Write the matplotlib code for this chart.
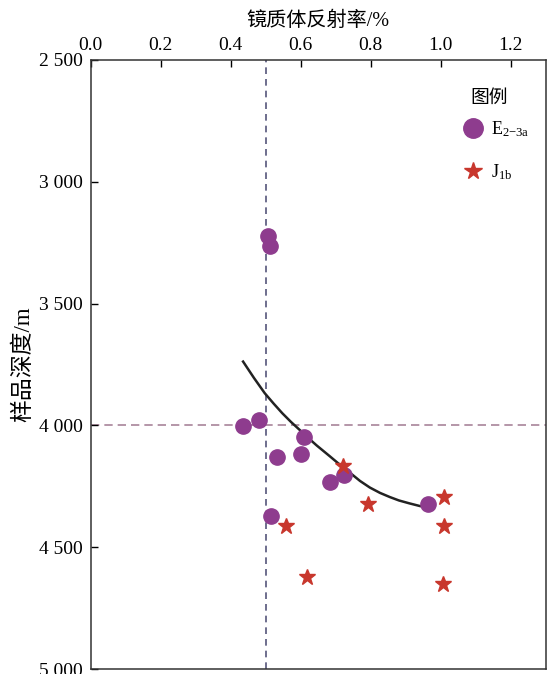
import matplotlib.pyplot as plt

plt.rcParams['font.family'] = ['Liberation Serif', 'Noto Sans CJK SC']
plt.rcParams['mathtext.fontset'] = 'custom'
plt.rcParams['mathtext.rm'] = 'Liberation Serif'
plt.rcParams['mathtext.it'] = 'Liberation Serif'

# E2-3a samples: vitrinite reflectance (%) vs depth (m)
e_ro = [0.506, 0.511, 0.435, 0.480, 0.608, 0.531, 0.601, 0.683, 0.723, 0.964, 0.516]
e_depth = [3222, 3264, 4002, 3978, 4049, 4128, 4117, 4231, 4202, 4323, 4371]

# J1b samples
j_ro = [0.719, 0.792, 1.009, 0.557, 1.009, 0.618, 1.007]
j_depth = [4167, 4323, 4295, 4412, 4412, 4624, 4652]

# trend line through the E2-3a points
trend_ro = [0.435, 0.466, 0.497, 0.522, 0.547, 0.572, 0.597, 0.620, 0.645, 0.683,
            0.712, 0.740, 0.769, 0.797, 0.826, 0.854, 0.880, 0.910, 0.940]
trend_depth = [3738, 3805, 3868, 3910, 3950, 3986, 4019, 4050, 4082, 4127,
               4162, 4194, 4228, 4255, 4277, 4294, 4308, 4320, 4331]

ro_ref = 0.5
depth_ref = 4000

x_ticks = [0.0, 0.2, 0.4, 0.6, 0.8, 1.0, 1.2]
y_ticks = [2500, 3000, 3500, 4000, 4500, 5000]
y_ticklabels = ['2 500', '3 000', '3 500', '4 000', '4 500', '5 000']

fig = plt.figure(figsize=(5.47, 6.74), dpi=100)
ax = fig.add_axes([0.166, 0.0074, 0.832, 0.9036])

ax.axvline(ro_ref, color='#55557a', linestyle=(0, (4, 3)), linewidth=1.2, zorder=1)
ax.axhline(depth_ref, color='#a8849a', linestyle=(0, (5, 3)), linewidth=1.2, zorder=1)

ax.plot(trend_ro, trend_depth, color='#222222', linewidth=1.8, zorder=2)
ax.plot(e_ro, e_depth, linestyle='none', marker='o', markersize=11,
        color='#8e3c8e', label=r'E$_{2\mathrm{-}3\mathrm{a}}$', zorder=3)
ax.plot(j_ro, j_depth, linestyle='none', marker='*', markersize=12,
        color='#c8372d', label=r'J$_{1\mathrm{b}}$', zorder=4)

ax.set_xlim(0, 1.3)
ax.set_ylim(5000, 2500)
ax.xaxis.tick_top()
ax.xaxis.set_label_position('top')
ax.set_xticks(x_ticks)
ax.set_xticklabels([f'{v:.1f}' for v in x_ticks])
ax.set_yticks(y_ticks)
ax.set_yticklabels(y_ticklabels)
ax.tick_params(axis='both', direction='in', labelsize=14, length=5, width=1,
               right=False, bottom=False)
ax.tick_params(axis='x', pad=4)
ax.tick_params(axis='y', pad=6)
for s in ax.spines.values():
    s.set_linewidth(1.1)
    s.set_color('#333333')

ax.set_xlabel('镜质体反射率/%', fontsize=14.5, labelpad=8)
ax.set_ylabel('样品深度/m', fontsize=16.5, labelpad=3)

# legend heading drawn separately so it sits close to the entries
ax.text(0.875, 0.9376, '图例', transform=ax.transAxes, fontsize=13.5,
        ha='center', va='center')
leg = ax.legend(loc='upper right', bbox_to_anchor=(0.991, 0.9235), frameon=False,
                fontsize=13, handletextpad=0.2, labelspacing=1.3,
                borderaxespad=0.3, handlelength=1.6)
leg.legend_handles[0].set_markersize(14)
leg.legend_handles[1].set_markersize(13)

fig.savefig('out.png', dpi=100)
